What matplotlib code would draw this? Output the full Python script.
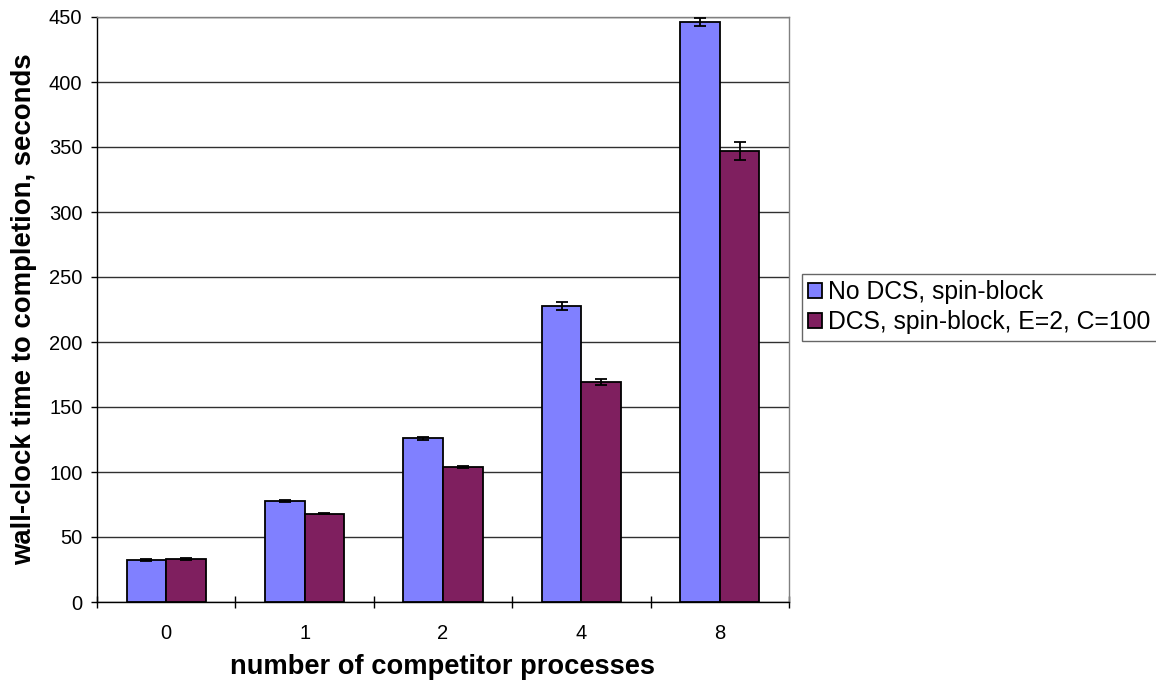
import matplotlib
matplotlib.use("Agg")
import matplotlib.pyplot as plt
from matplotlib.ticker import MultipleLocator, FixedLocator
import numpy as np

plt.rcParams['font.family'] = ['Liberation Sans', 'DejaVu Sans']

categories = ['0', '1', '2', '4', '8']
series_names = ['No DCS, spin-block', 'DCS, spin-block, E=2, C=100']
no_dcs = [32.4, 77.9, 125.8, 227.6, 446.4]
no_dcs_err = [0.6, 0.9, 1.2, 3.0, 3.0]
dcs = [33.0, 68.0, 104.0, 169.1, 347.0]
dcs_err = [0.7, 0.6, 1.0, 2.3, 6.7]
colors = ['#8080FF', '#7F1F5F']

fig = plt.figure(figsize=(11.56, 6.85), dpi=100)
ax = fig.add_axes([97 / 1156, 1 - 602 / 685, 692 / 1156, 585 / 685])

x = np.arange(len(categories))
w = 1 / 3.5
err_style = dict(ecolor='black', elinewidth=1.3, capsize=4, capthick=1.3, zorder=4)
ax.bar(x - w / 2, no_dcs, w, color=colors[0], edgecolor='black', linewidth=1.3,
       label=series_names[0], zorder=3, yerr=no_dcs_err, error_kw=err_style)
ax.bar(x + w / 2, dcs, w, color=colors[1], edgecolor='black', linewidth=1.3,
       label=series_names[1], zorder=3, yerr=dcs_err, error_kw=err_style)

ax.set_xlim(-0.5, len(categories) - 0.5)
ax.set_ylim(0, 450)
ax.yaxis.set_major_locator(MultipleLocator(50))
ax.yaxis.grid(True, color='#303030', linewidth=1.0, zorder=0)
ax.set_axisbelow(True)

ax.set_xticks(x)
ax.set_xticklabels(categories, fontsize=14.5)
ax.xaxis.set_minor_locator(FixedLocator(np.arange(-0.5, len(categories), 1.0)))
ax.tick_params(axis='x', which='major', length=0, pad=16)
ax.tick_params(axis='x', which='minor', direction='inout', length=9, width=1, color='black')
ax.tick_params(axis='y', which='major', direction='out', length=4.5, width=1, labelsize=14.5, pad=6)

for side in ['left', 'bottom']:
    ax.spines[side].set_color('black')
    ax.spines[side].set_linewidth(1.0)
for side in ['top', 'right']:
    ax.spines[side].set_color('#808080')
    ax.spines[side].set_linewidth(1.0)

ax.set_xlabel('number of competitor processes', fontsize=19.6, fontweight='bold', va='center')
ax.xaxis.set_label_coords(0.5, (602 - 667) / 585)
ax.set_ylabel('wall-clock time to completion, seconds', fontsize=19.8, fontweight='bold', va='center')
ax.yaxis.set_label_coords((24 - 97) / 692, (602 - 309) / 585)

leg = fig.legend(loc='upper left', bbox_to_anchor=(802 / 1156, 1 - 274 / 685),
                 fontsize=17.8, frameon=True, fancybox=False, edgecolor='#404040',
                 handlelength=0.55, handleheight=0.55, handletextpad=0.25,
                 borderpad=0.25, labelspacing=0.25, borderaxespad=0)
leg.get_frame().set_linewidth(1.0)

fig.savefig('out.png', dpi=100, facecolor='white')
